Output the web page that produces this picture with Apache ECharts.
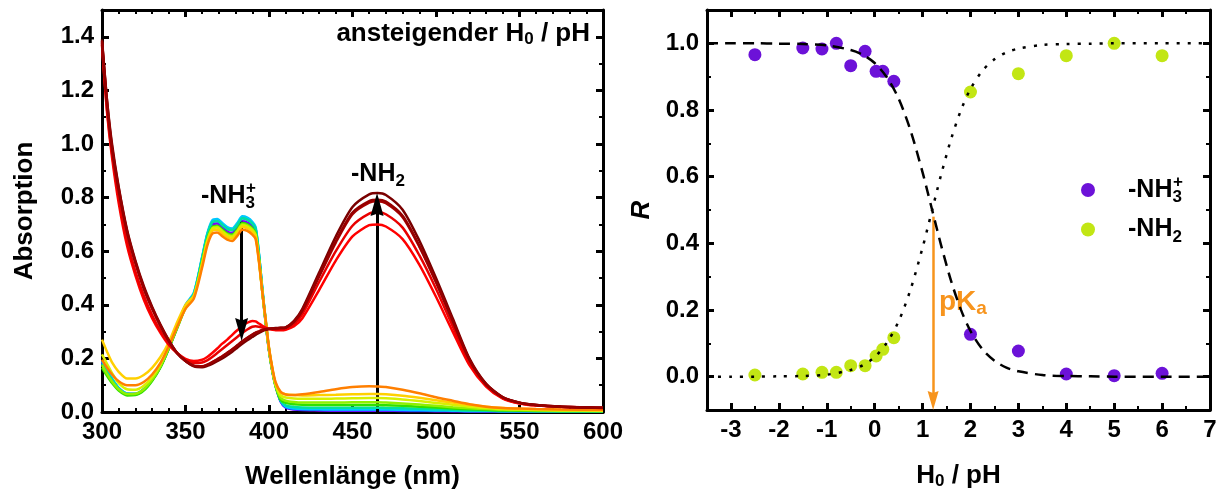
<!DOCTYPE html>
<html><head><meta charset="utf-8">
<script src="https://cdn.jsdelivr.net/npm/echarts@6/dist/echarts.min.js"></script>
<style>html,body{margin:0;padding:0;background:#fff}#c{width:1223px;height:495px}</style>
</head><body><div id="c"></div><script>
// ---------- DATA ----------
const wavelengths = [300,303,306,310, 315,320,325,330,335,340,345,350,355,360, 363,366,369,372,375,378,381,384,387,390, 392,394,396,398,400,402,404,407,410, 415,420,430,440,450,460,465,470,480,490, 500,510,520,530,540,550,560,575,600];

const specPHm2_5 = [0.185,0.15,0.12,0.088, 0.068,0.067,0.084,0.118,0.168,0.237,0.315,0.393,0.436,0.567, 0.65,0.698,0.703,0.688,0.673,0.668,0.688,0.712,0.707,0.693, 0.673,0.576,0.449,0.332,0.228,0.152,0.095,0.038,0.016, 0.009,0.007,0.006,0.005,0.005,0.005,0.005,0.005,0.004,0.004, 0.003,0.003,0.002,0.002,0.002,0.001,0.001,0.001,0.001];
const specPHm1_5 = [0.19,0.153,0.123,0.089, 0.068,0.067,0.084,0.119,0.169,0.238,0.318,0.397,0.441,0.575, 0.66,0.708,0.713,0.698,0.683,0.678,0.698,0.723,0.718,0.703, 0.683,0.585,0.455,0.337,0.233,0.156,0.098,0.04,0.018, 0.011,0.009,0.008,0.007,0.007,0.007,0.007,0.007,0.006,0.005, 0.005,0.004,0.003,0.003,0.002,0.002,0.002,0.001,0.001];
const specPHm1_1 = [0.19,0.155,0.125,0.09, 0.069,0.068,0.085,0.12,0.17,0.24,0.32,0.40,0.445,0.58, 0.665,0.715,0.72,0.705,0.69,0.685,0.705,0.73,0.725,0.71, 0.69,0.59,0.46,0.34,0.235,0.158,0.1,0.042,0.02, 0.013,0.011,0.01,0.009,0.009,0.009,0.009,0.009,0.008,0.007, 0.006,0.005,0.004,0.004,0.003,0.003,0.003,0.002,0.002];
const specPHm0_8 = [0.18,0.148,0.12,0.087, 0.066,0.066,0.083,0.119,0.169,0.239,0.318,0.397,0.441,0.575, 0.659,0.708,0.713,0.698,0.683,0.679,0.698,0.723,0.718,0.703, 0.684,0.587,0.46,0.342,0.232,0.155,0.098,0.042,0.025, 0.019,0.017,0.016,0.016,0.016,0.016,0.016,0.015,0.014,0.012, 0.01,0.008,0.006,0.005,0.004,0.004,0.003,0.003,0.002];
const specPHm0_5 = [0.165,0.135,0.108,0.08, 0.062,0.063,0.08,0.116,0.166,0.236,0.312,0.388,0.432,0.562, 0.643,0.69,0.695,0.681,0.667,0.662,0.681,0.705,0.7,0.686, 0.667,0.572,0.449,0.335,0.23,0.153,0.095,0.045,0.034, 0.029,0.027,0.026,0.026,0.026,0.026,0.026,0.025,0.023,0.02, 0.017,0.013,0.01,0.008,0.006,0.005,0.004,0.003,0.003];
const specPHm0_2 = [0.175,0.142,0.114,0.085, 0.067,0.068,0.085,0.12,0.17,0.24,0.315,0.388,0.43,0.558, 0.64,0.686,0.691,0.677,0.663,0.658,0.677,0.701,0.696,0.682, 0.663,0.569,0.448,0.336,0.232,0.155,0.097,0.052,0.042, 0.037,0.035,0.035,0.035,0.036,0.036,0.036,0.035,0.032,0.028, 0.023,0.018,0.014,0.011,0.008,0.007,0.006,0.005,0.004];
const specPH0_03 = [0.215,0.18,0.145,0.108, 0.085,0.083,0.098,0.13,0.178,0.245,0.32,0.39,0.43,0.555, 0.637,0.683,0.688,0.673,0.659,0.654,0.673,0.697,0.692,0.678, 0.66,0.567,0.449,0.34,0.235,0.16,0.1,0.062,0.054, 0.05,0.049,0.049,0.05,0.051,0.052,0.052,0.051,0.047,0.041, 0.034,0.027,0.02,0.015,0.011,0.009,0.008,0.006,0.005];
const specPH0_17 = [0.27,0.225,0.185,0.15, 0.125,0.125,0.138,0.165,0.205,0.26,0.335,0.40,0.435,0.55, 0.63,0.676,0.68,0.666,0.652,0.647,0.666,0.69,0.685,0.671, 0.653,0.562,0.447,0.342,0.238,0.162,0.107,0.072,0.066, 0.063,0.062,0.063,0.064,0.066,0.067,0.067,0.066,0.061,0.053, 0.044,0.035,0.027,0.02,0.015,0.012,0.01,0.008,0.006];
const specPH0_4 = [0.195,0.165,0.14,0.115, 0.1,0.1,0.112,0.14,0.183,0.245,0.318,0.385,0.423,0.54, 0.62,0.665,0.67,0.656,0.643,0.638,0.657,0.68,0.676,0.662, 0.645,0.56,0.448,0.346,0.24,0.165,0.11,0.075,0.065, 0.063,0.066,0.075,0.085,0.093,0.096,0.095,0.093,0.083,0.07, 0.055,0.042,0.029,0.02,0.015,0.013,0.011,0.009,0.008];
const specPH2 = [1.37,1.12,0.95,0.78, 0.62,0.51,0.42,0.35,0.295,0.25,0.22,0.198,0.19,0.195, 0.205,0.22,0.237,0.255,0.27,0.288,0.305,0.32,0.333,0.34, 0.338,0.33,0.322,0.315,0.31,0.307,0.305,0.305,0.307, 0.32,0.35,0.455,0.565,0.655,0.697,0.70,0.692,0.645,0.55, 0.43,0.30,0.175,0.095,0.05,0.032,0.024,0.019,0.015];
const specPH3 = [1.375,1.13,0.965,0.80, 0.64,0.525,0.435,0.362,0.303,0.255,0.22,0.195,0.183,0.185, 0.193,0.205,0.22,0.235,0.25,0.265,0.28,0.295,0.308,0.318, 0.32,0.318,0.315,0.312,0.31,0.309,0.308,0.309,0.311, 0.328,0.365,0.485,0.60,0.695,0.74,0.745,0.738,0.688,0.585, 0.46,0.32,0.185,0.10,0.052,0.033,0.025,0.02,0.015];
const specPH4 = [1.38,1.15,0.98,0.825, 0.67,0.555,0.46,0.385,0.32,0.264,0.219,0.19,0.173,0.171, 0.177,0.186,0.197,0.208,0.221,0.234,0.249,0.264,0.277,0.289, 0.296,0.301,0.306,0.309,0.311,0.312,0.312,0.313,0.315, 0.336,0.378,0.505,0.632,0.738,0.781,0.786,0.779,0.727,0.617, 0.484,0.339,0.195,0.103,0.055,0.035,0.026,0.02,0.016];
const specPH5 = [1.39,1.165,1.0,0.84, 0.68,0.565,0.47,0.393,0.326,0.268,0.22,0.19,0.17,0.167, 0.172,0.18,0.19,0.2,0.212,0.225,0.24,0.255,0.268,0.28, 0.288,0.295,0.302,0.307,0.31,0.312,0.313,0.314,0.316, 0.34,0.385,0.52,0.655,0.765,0.812,0.817,0.81,0.755,0.64, 0.50,0.35,0.20,0.105,0.055,0.035,0.026,0.02,0.016];
const specPH6 = [1.385,1.16,0.99,0.835, 0.675,0.56,0.465,0.389,0.323,0.266,0.219,0.19,0.172,0.17, 0.176,0.185,0.196,0.207,0.22,0.233,0.248,0.263,0.276,0.288, 0.295,0.3,0.305,0.309,0.311,0.312,0.312,0.313,0.315, 0.337,0.38,0.51,0.638,0.744,0.787,0.792,0.785,0.732,0.621, 0.487,0.341,0.196,0.104,0.055,0.035,0.026,0.02,0.016];

const titrationH0 = [-2.5,-1.5,-1.1,-0.8,-0.5,-0.2,0.03,0.17,0.4,2,3,4,5,6];
const ratioNH3 = [0.966,0.986,0.983,1.0,0.933,0.976,0.916,0.916,0.886,0.127,0.077,0.008,0.003,0.01];
const ratioNH2 = [0.005,0.008,0.013,0.013,0.033,0.033,0.062,0.082,0.117,0.854,0.909,0.963,1.0,0.963];

const fitH0 = [-3.5,-3,-2.5,-2,-1.5,-1,-0.5,-0.25,0,0.25,0.5,0.75,1,1.1,1.2,1.3,1.4,1.6,1.8,2,2.25,2.5,2.75,3,3.5,4,4.5,5,6,7];
const fitNH3 = [1,1,1,0.999,0.998,0.994,0.98,0.966,0.941,0.899,0.834,0.738,0.613,0.557,0.5,0.443,0.387,0.285,0.201,0.137,0.082,0.048,0.027,0.016,0.005,0.002,0.001,0,0,0];
const fitNH2 = [0,0,0,0.001,0.002,0.006,0.02,0.034,0.059,0.101,0.166,0.262,0.387,0.443,0.5,0.557,0.613,0.715,0.799,0.863,0.918,0.952,0.973,0.984,0.995,0.998,0.999,1,1,1];

const pKa = 1.22;
const xTicksRight = [-3,-2,-1,0,1,2,3,4,5,6,7];
const yTicksRight = [0,0.2,0.4,0.6,0.8,1.0];

// ---------- STYLE ----------
const FONT = "'Liberation Sans', Arial, Helvetica, sans-serif";
const spectra = [specPHm2_5,specPHm1_5,specPHm1_1,specPHm0_8,specPHm0_5,specPHm0_2,specPH0_03,specPH0_17,specPH0_4,specPH2,specPH3,specPH4,specPH5,specPH6];
const specColors = ['#8000ff','#1040ff','#00c8ff','#00e0a0','#30e000','#90f000','#d8f000','#ffd000','#ff7f00','#ff0000','#e80000','#a80000','#7a0000','#960000'];
const HEAD_UP = 'path://M5,0 L10,24 L5,21.5 L0,24 Z';
const HEAD_DOWN = 'path://M0,0 L5,2.5 L10,0 L5,24 Z';

const labelStyle = {show:true, color:'#000', fontSize:24, fontWeight:'bold', fontFamily:FONT};
function ax(o){
  return Object.assign({
    type:'value', splitLine:{show:false},
    axisLine:{show:false, onZero:false, lineStyle:{color:'#000', width:3}},
    axisTick:{show:true, inside:true, length:4, lineStyle:{color:'#000', width:2}},
    axisLabel:{show:false}
  }, o);
}
const majorTick = {show:true, inside:true, length:7, lineStyle:{color:'#000', width:3}};
const axLineOn = {show:true, onZero:false, lineStyle:{color:'#000', width:3}};
const nameStyle = {color:'#000', fontSize:26, fontWeight:'bold', fontFamily:FONT};

const xAxes = [
  ax({gridIndex:0, position:'bottom', min:300, max:600, interval:50, axisLine:axLineOn, axisTick:majorTick,
      axisLabel:Object.assign({margin:8}, labelStyle),
      name:'Wellenlänge (nm)', nameLocation:'middle', nameGap:52, nameTextStyle:nameStyle}),
  ax({gridIndex:0, position:'bottom', min:300, max:600, interval:10}),
  ax({gridIndex:0, position:'top', min:300, max:600, interval:50, axisLine:axLineOn, axisTick:majorTick}),
  ax({gridIndex:0, position:'top', min:300, max:600, interval:10}),
  ax({gridIndex:1, position:'bottom', min:-3.5, max:7, axisLine:axLineOn,
      axisTick:Object.assign({customValues:xTicksRight}, majorTick),
      axisLabel:Object.assign({margin:8, customValues:xTicksRight}, labelStyle),
      name:'{b|H}{s|0}{b| / pH}', nameLocation:'middle', nameGap:52,
      nameTextStyle:Object.assign({rich:{b:Object.assign({},nameStyle), s:{fontSize:17,fontWeight:'bold',fontFamily:FONT,color:'#000',padding:[11,0,0,0]}}}, nameStyle)}),
  ax({gridIndex:1, position:'bottom', min:-3.5, max:7, interval:0.5}),
  ax({gridIndex:1, position:'top', min:-3.5, max:7, axisLine:axLineOn, axisTick:Object.assign({customValues:xTicksRight}, majorTick)}),
  ax({gridIndex:1, position:'top', min:-3.5, max:7, interval:0.5})
];
const yAxes = [
  ax({gridIndex:0, position:'left', min:0, max:1.5, interval:0.2, axisLine:axLineOn, axisTick:majorTick,
      axisLabel:Object.assign({margin:8, formatter:v => (Math.abs(v*5-Math.round(v*5))<1e-6 ? v.toFixed(1) : '')}, labelStyle),
      name:'Absorption', nameLocation:'middle', nameGap:64, nameTextStyle:nameStyle}),
  ax({gridIndex:0, position:'left', min:0, max:1.5, interval:0.1}),
  ax({gridIndex:0, position:'right', min:0, max:1.5, interval:0.2, axisLine:axLineOn, axisTick:majorTick}),
  ax({gridIndex:0, position:'right', min:0, max:1.5, interval:0.1}),
  ax({gridIndex:1, position:'left', min:-0.1, max:1.1, axisLine:axLineOn,
      axisTick:Object.assign({customValues:yTicksRight}, majorTick),
      axisLabel:Object.assign({margin:8, customValues:yTicksRight, formatter:v=>v.toFixed(1)}, labelStyle),
      name:'R', nameLocation:'middle', nameGap:52, nameTextStyle:Object.assign({}, nameStyle, {fontStyle:'italic'})}),
  ax({gridIndex:1, position:'left', min:-0.1, max:1.1, interval:0.1}),
  ax({gridIndex:1, position:'right', min:-0.1, max:1.1, axisLine:axLineOn, axisTick:Object.assign({customValues:yTicksRight}, majorTick)}),
  ax({gridIndex:1, position:'right', min:-0.1, max:1.1, interval:0.1})
];

const series = spectra.map((arr, i) => ({
  type:'line', xAxisIndex:0, yAxisIndex:0, name:'spec'+i,
  data: wavelengths.map((w, j) => [w, arr[j]]),
  showSymbol:false, smooth:0.25,
  lineStyle:{color:specColors[i], width:2.5}, itemStyle:{color:specColors[i]}, silent:true, z:2+i
}));

// arrows in spectra panel: shafts
series.push({
  type:'line', xAxisIndex:0, yAxisIndex:0, data:[], silent:true, z:30,
  markLine:{silent:true, animation:false, label:{show:false}, emphasis:{disabled:true}, symbol:['none','none'],
    lineStyle:{color:'#000', width:3, type:'solid'},
    data:[
      [{coord:[383.6,0.71]}, {coord:[383.6,0.30]}],
      [{coord:[464.7,0.0]}, {coord:[464.7,0.78]}]
    ]}
});
// arrow heads (tip placed at the coordinate)
series.push({type:'scatter', xAxisIndex:0, yAxisIndex:0, silent:true, z:31,
  data:[{value:[383.6,0.265], symbol:HEAD_DOWN, symbolOffset:[0,-11.5]},
        {value:[464.7,0.817], symbol:HEAD_UP, symbolOffset:[0,11.5]}],
  symbolSize:[13,23], itemStyle:{color:'#000', opacity:1}});

// titration panel
series.push({type:'scatter', name:'-NH3+', xAxisIndex:4, yAxisIndex:4, data:titrationH0.map((x,i)=>[x, ratioNH3[i]]),
  symbol:'circle', symbolSize:13, itemStyle:{color:'#6c12d8', opacity:1}, z:5});
series.push({type:'scatter', name:'-NH2', xAxisIndex:4, yAxisIndex:4, data:titrationH0.map((x,i)=>[x, ratioNH2[i]]),
  symbol:'circle', symbolSize:13, itemStyle:{color:'#c2e614', opacity:1}, z:5});
series.push({type:'line', xAxisIndex:4, yAxisIndex:4, data:fitH0.map((x,i)=>[x, fitNH3[i]]),
  showSymbol:false, smooth:0.3, silent:true, lineStyle:{color:'#000', width:2.5, type:[11,7]}, z:8});
series.push({type:'line', xAxisIndex:4, yAxisIndex:4, data:fitH0.map((x,i)=>[x, fitNH2[i]]),
  showSymbol:false, smooth:0.3, silent:true, lineStyle:{color:'#000', width:2.5, type:[3,8]}, z:8});
series.push({
  type:'line', xAxisIndex:4, yAxisIndex:4, data:[], silent:true, z:9,
  markLine:{silent:true, animation:false, label:{show:false}, emphasis:{disabled:true}, symbol:['none','none'],
    lineStyle:{color:'#f7941d', width:2.5, type:'solid'},
    data:[[{coord:[pKa,0.48]}, {coord:[pKa,-0.07]}]]}
});
series.push({type:'scatter', xAxisIndex:4, yAxisIndex:4, silent:true, z:10,
  data:[{value:[pKa,-0.1], symbol:HEAD_DOWN, symbolOffset:[0,-9.5]}],
  symbolSize:[11,19], itemStyle:{color:'#f7941d', opacity:1}});

const subRich = {
  m:{fontSize:25, fontWeight:'bold', fontFamily:FONT, color:'#000', lineHeight:32, padding:[0,0,0,28]},
  s:{fontSize:17, fontWeight:'bold', fontFamily:FONT, color:'#000', verticalAlign:'bottom', lineHeight:17},
  p:{fontSize:17, fontWeight:'bold', fontFamily:FONT, color:'#000', verticalAlign:'top', lineHeight:17, padding:[0,0,0,-9]}
};

const option = {
  animation:false,
  backgroundColor:'#fff',
  grid:[{left:102, top:10, width:501, height:403}, {left:707, top:10, width:503, height:403}],
  xAxis:xAxes, yAxis:yAxes, series:series,
  legend:{data:['-NH3+','-NH2'], orient:'vertical', left:1081, top:174, padding:0, itemWidth:14, itemHeight:14, itemGap:11,
    icon:'circle', selectedMode:false,
    formatter: n => n==='-NH3+' ? '{m|-NH}{s|3}{p|+}' : '{m|-NH}{s|2}',
    textStyle:{rich:subRich}},
  graphic:[
    {type:'text', x:590, y:34, style:{text:'{a|ansteigender H}{s|0}{a| / pH}', align:'right', verticalAlign:'middle',
      rich:{a:{fontSize:26, fontWeight:'bold', fontFamily:FONT, fill:'#000', lineHeight:28},
            s:{fontSize:17, fontWeight:'bold', fontFamily:FONT, fill:'#000', verticalAlign:'bottom', lineHeight:17}}}},
    {type:'text', x:201, y:196, style:{text:'{m|-NH}{s|3}{p|+}', align:'left', verticalAlign:'middle',
      rich:{m:{fontSize:25, fontWeight:'bold', fontFamily:FONT, fill:'#000', lineHeight:32},
            s:{fontSize:17, fontWeight:'bold', fontFamily:FONT, fill:'#000', verticalAlign:'bottom', lineHeight:17},
            p:{fontSize:17, fontWeight:'bold', fontFamily:FONT, fill:'#000', verticalAlign:'top', lineHeight:17, padding:[0,0,0,-9]}}}},
    {type:'text', x:351, y:174, style:{text:'{m|-NH}{s|2}', align:'left', verticalAlign:'middle',
      rich:{m:{fontSize:25, fontWeight:'bold', fontFamily:FONT, fill:'#000', lineHeight:32},
            s:{fontSize:17, fontWeight:'bold', fontFamily:FONT, fill:'#000', verticalAlign:'bottom', lineHeight:17}}}},
    {type:'text', x:939, y:302, style:{text:'{m|pK}{s|a}', align:'left', verticalAlign:'middle',
      rich:{m:{fontSize:28, fontWeight:'bold', fontFamily:FONT, fill:'#f7941d', lineHeight:32},
            s:{fontSize:19, fontWeight:'bold', fontFamily:FONT, fill:'#f7941d', verticalAlign:'bottom', lineHeight:19}}}}
  ]
};
const chart = echarts.init(document.getElementById('c'), null, {renderer:'canvas'});
chart.setOption(option);
</script></body></html>
